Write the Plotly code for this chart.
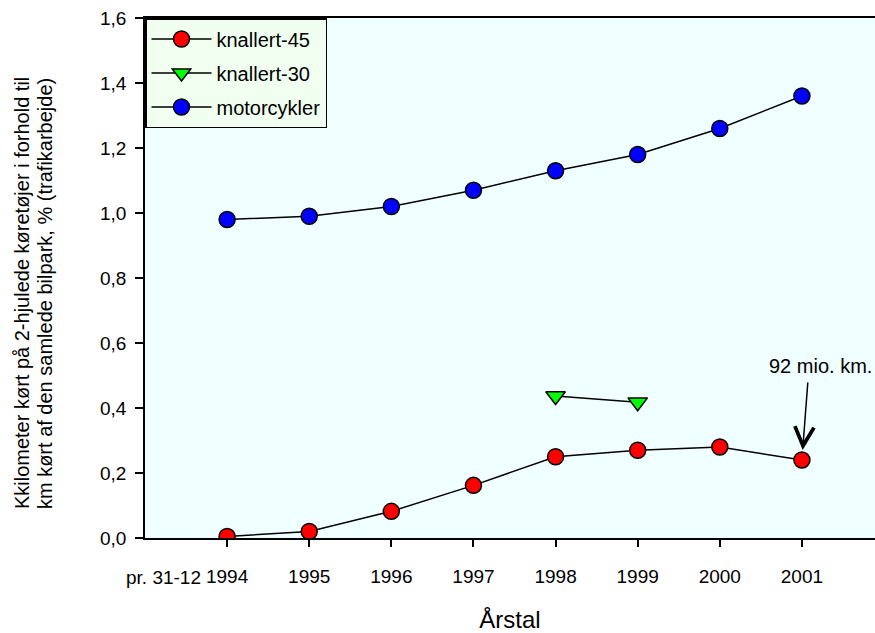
import plotly.graph_objects as go

years = [1994, 1995, 1996, 1997, 1998, 1999, 2000, 2001]
knallert45 = [0.005, 0.02, 0.082, 0.162, 0.25, 0.27, 0.28, 0.24]
years30 = [1998, 1999]
knallert30 = [0.437, 0.418]
motorcykler = [0.98, 0.99, 1.02, 1.07, 1.13, 1.18, 1.26, 1.36]

x_tickvals = [1994, 1995, 1996, 1997, 1998, 1999, 2000, 2001]
x_ticktext = ["1994", "1995", "1996", "1997", "1998", "1999", "2000", "2001"]
x_tick_prefix = "pr. 31-12"
y_tickvals = [0, 0.2, 0.4, 0.6, 0.8, 1.0, 1.2, 1.4, 1.6]
y_ticktext = ["0,0", "0,2", "0,4", "0,6", "0,8", "1,0", "1,2", "1,4", "1,6"]
y_title_lines = ["Kkilometer kørt på 2-hjulede køretøjer i forhold til",
                 "km kørt af den samlede bilpark, % (trafikarbejde)"]

font = "Liberation Sans, Arial, sans-serif"
line = dict(color="black", width=1.5)

fig = go.Figure()
fig.add_trace(go.Scatter(x=years, y=knallert45, name="knallert-45", mode="lines+markers",
                         legendgroup="a", line=line,
                         marker=dict(symbol="circle", size=16, color="#FF0000",
                                     line=dict(color="black", width=1.5))))
fig.add_trace(go.Scatter(x=years30, y=knallert30, name="knallert-30", mode="lines+markers",
                         legendgroup="b", line=line,
                         marker=dict(symbol="triangle-down", size=17, color="#00FF00",
                                     line=dict(color="black", width=1.5))))
fig.add_trace(go.Scatter(x=years, y=motorcykler, name="motorcykler", mode="lines+markers",
                         legendgroup="c", line=line,
                         marker=dict(symbol="circle", size=16, color="#0000FF",
                                     line=dict(color="black", width=1.5))))

# arrow (no text) and its label
fig.add_annotation(x=2001, y=0.24, xref="x", yref="y", text="",
                   showarrow=True, ax=6, ay=-79, arrowhead=5, arrowsize=2.5, arrowwidth=1.5,
                   arrowcolor="black", standoff=10)
fig.add_annotation(x=2001.23, y=0.529, xref="x", yref="y", text="92 mio. km.",
                   showarrow=False, xanchor="center", yanchor="middle",
                   font=dict(family=font, size=20, color="black"))

# prefix of the first x tick label
fig.add_annotation(x=(203 - 145) / 730, y=(538 - 577) / 520, xref="paper", yref="paper",
                   text=x_tick_prefix, showarrow=False, xanchor="right", yanchor="middle",
                   font=dict(family=font, size=19, color="black"))

# y axis title, two lines
for txt, px in zip(y_title_lines, [-0.1685, -0.137]):
    fig.add_annotation(x=px, y=0.471, xref="paper", yref="paper", text=txt,
                       textangle=-90, showarrow=False, xanchor="center", yanchor="middle",
                       font=dict(family=font, size=20, color="black"))

fig.update_layout(
    width=875, height=633,
    margin=dict(l=145, r=0, t=18, b=95),
    paper_bgcolor="white",
    plot_bgcolor="#F0FFFF",
    font=dict(family=font, size=19, color="black"),
    showlegend=True,
    legend=dict(x=0, y=1, xanchor="left", yanchor="top", bgcolor="#F0FFF0",
                bordercolor="black", borderwidth=1.5, font=dict(size=20),
                traceorder="grouped", tracegroupgap=5, itemwidth=60),
    xaxis=dict(range=[1993, 2001.89], tickvals=x_tickvals, ticktext=x_ticktext,
               tickangle=0, automargin=False,
               showgrid=False, zeroline=False, showline=True, linecolor="black", linewidth=1.5,
               mirror=True, ticks="outside", ticklen=7, tickwidth=1.5, tickcolor="black",
               ticklabelstandoff=13,
               title=dict(text="Årstal", font=dict(size=24), standoff=28)),
    yaxis=dict(range=[0, 1.6], tickvals=y_tickvals, ticktext=y_ticktext,
               automargin=False,
               showgrid=False, zeroline=False, showline=True, linecolor="black", linewidth=1.5,
               ticks="outside", ticklen=8, tickwidth=1.5, tickcolor="black",
               ticklabelstandoff=5),
)

fig.write_html("out.html")
